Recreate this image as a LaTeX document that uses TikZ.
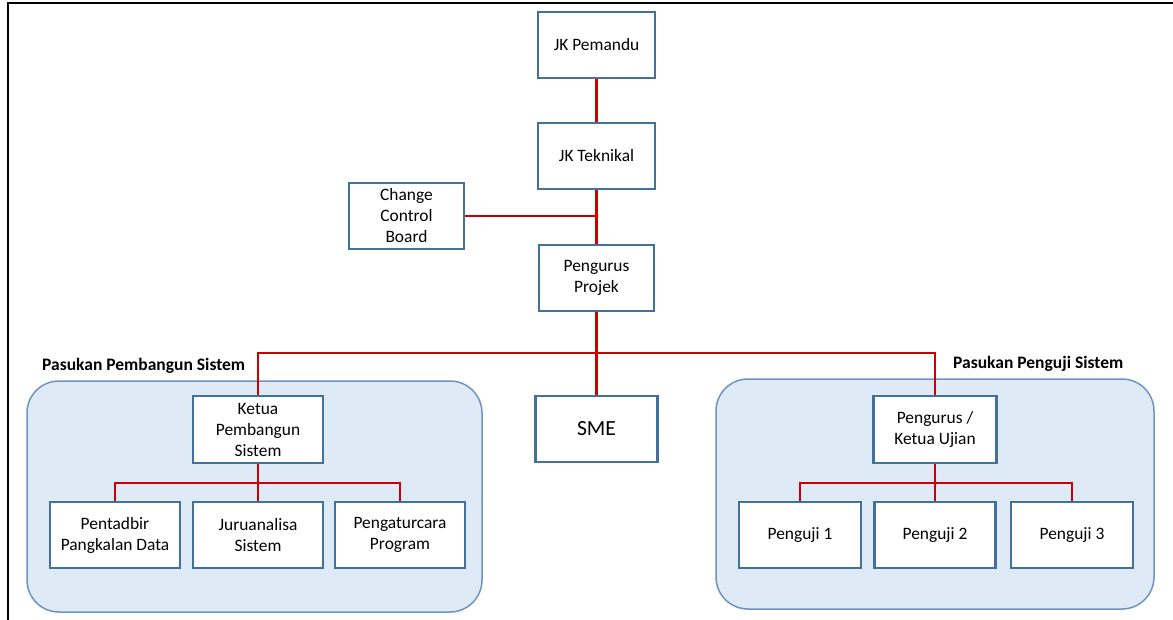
\documentclass[tikz,border=0pt]{standalone}
\usepackage{fontspec}
\setmainfont{Carlito}
\definecolor{boxblue}{HTML}{41719C}
\definecolor{grpfill}{HTML}{DEEBF7}
\definecolor{grpline}{HTML}{6F93C1}
\definecolor{linkred}{HTML}{CC0000}
\begin{document}
\begin{tikzpicture}[x=1pt,y=-1pt,
  orgbox/.style={draw=boxblue,line width=2.2pt,fill=white,inner sep=0pt,align=center,
    minimum height=66pt,font=\fontsize{17.4}{21}\selectfont},
  grp/.style={draw=grpline,line width=1.5pt,fill=grpfill,rounded corners=32pt},
  grplabel/.style={font=\fontsize{17.5}{21}\selectfont\bfseries,inner sep=0pt,anchor=west},
  link/.style={draw=linkred,line width=2.2pt}]
\useasboundingbox (0,0) rectangle (1173,620);
% frame
\draw[line width=2pt,black] (8,620) -- (8,3) -- (1173,3);
% groups
\draw[grp] (27,381) rectangle (482,612);
\draw[grp] (716,379) rectangle (1154,609);
\node[grplabel] (lblL) at (42,366) {Pasukan Pembangun Sistem};
\node[grplabel] (lblR) at (953,364) {Pasukan Penguji Sistem};
% nodes
\node[orgbox,minimum width=117pt] (pem) at (596.5,45) {JK Pemandu};
\node[orgbox,minimum width=117pt] (tek) at (596.5,156) {JK Teknikal};
\node[orgbox,minimum width=115pt] (ccb) at (406.5,216) {Change\\Control\\Board};
\node[orgbox,minimum width=115pt] (proj) at (596.5,278) {Pengurus\\Projek};
\node[orgbox,minimum width=122pt,font=\fontsize{21.6}{26}\selectfont] (sme) at (596.5,429) {SME};
\node[orgbox,minimum width=130pt,minimum height=67pt] (ketua) at (258,429.5) {Ketua\\Pembangun\\Sistem};
\node[orgbox,minimum width=130pt] (pent) at (115,535) {Pentadbir\\Pangkalan Data};
\node[orgbox,minimum width=130pt] (juru) at (258,535) {Juruanalisa\\Sistem};
\node[orgbox,minimum width=130pt] (peng) at (400,535) {Pengaturcara\\Program};
\node[orgbox,minimum width=123pt,minimum height=67pt] (uji) at (935,429.5) {Pengurus /\\Ketua Ujian};
\node[orgbox,minimum width=122pt] (p1) at (800,535) {Penguji 1};
\node[orgbox,minimum width=121pt] (p2) at (935,535) {Penguji 2};
\node[orgbox,minimum width=122pt] (p3) at (1072,535) {Penguji 3};
% bus coordinates
\coordinate (busTop) at (596.5,353);
\coordinate (busL) at (258,483);
\coordinate (busR) at (935,483);
% connectors
\path[link] (pem.south) -- (tek.north);
\path[link] (tek.south) -- (proj.north);
\path[link] (ccb.east) -- (ccb.east -| proj.north);
\path[link] (proj.south) -- (sme.north);
\path[link] (ketua.north) |- (busTop) -| (uji.north);
\path[link] (ketua.south) -- (juru.north);
\path[link] (pent.north) |- (busL) -| (peng.north);
\path[link] (uji.south) -- (p2.north);
\path[link] (p1.north) |- (busR) -| (p3.north);
\end{tikzpicture}
\end{document}
